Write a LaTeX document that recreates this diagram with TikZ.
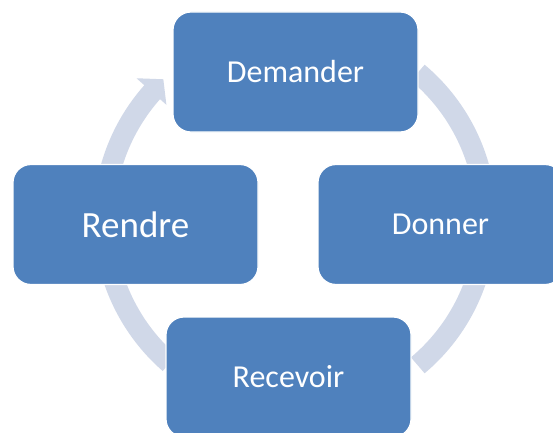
\documentclass[tikz,border=0pt]{standalone}
\usepackage{fontspec}
\setmainfont{Carlito}
\definecolor{boxblue}{HTML}{4F81BD}
\definecolor{ringblue}{HTML}{D0D8E8}
\tikzset{
  cyclebox/.style={rectangle, rounded corners=18pt, fill=boxblue, draw=white, line width=1.2pt,
    minimum width=245pt, minimum height=120pt, text=white, font=\fontsize{32}{38}\selectfont, inner sep=0pt},
  ringarc/.style={draw=ringblue, line width=21pt, line cap=butt},
}
\begin{document}
\begin{tikzpicture}[x=1pt,y=1pt]
\useasboundingbox (0,0) rectangle (553,432);
\clip (0,0) rectangle (553,432);
\fill[white] (0,0) rectangle (553,432);
\coordinate (c) at (295,213);
\begin{scope}[shift={(c)}]
  % top-right arc
  \draw[ringarc] (50:191pt) arc[start angle=50, end angle=5, radius=191pt];
  % bottom-right arc
  \draw[ringarc] (-5:191pt) arc[start angle=-5, end angle=-50, radius=191pt];
  % bottom-left arc
  \draw[ringarc] (229:191pt) arc[start angle=229, end angle=190, radius=191pt];
  % top-left arc with arrowhead
  \fill[ringblue] (172:201.5pt) arc[start angle=172, end angle=138.4, radius=201.5pt]
     -- (138.4:212pt) -- (133.3:192pt) -- (138.4:172pt) -- (138.4:180.5pt)
     arc[start angle=138.4, end angle=172, radius=180.5pt] -- cycle;
\end{scope}
\node[cyclebox] (demander) at (295.5,360) {Demander};
\node[cyclebox] (donner) at (440.5,207.5) {Donner};
\node[cyclebox] (recevoir) at (288.5,55) {Recevoir};
\node[cyclebox, font=\fontsize{37}{44}\selectfont] (rendre) at (135.5,207.5) {Rendre};
\end{tikzpicture}
\end{document}
